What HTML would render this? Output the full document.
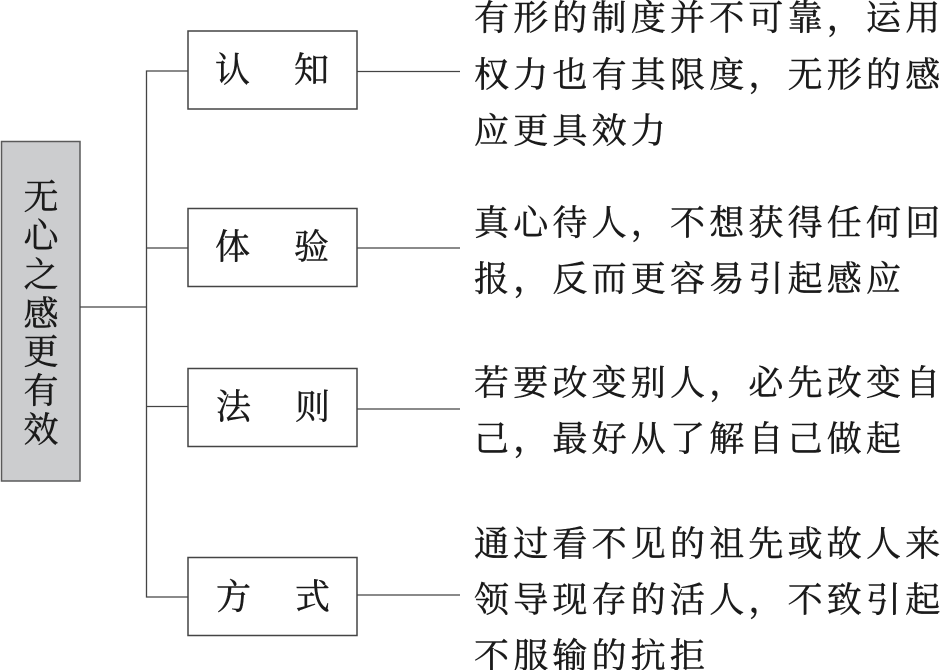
<!DOCTYPE html>
<html lang="zh">
<head>
<meta charset="utf-8">
<style>
html,body{margin:0;padding:0;background:#fff;width:941px;height:670px;overflow:hidden}
svg{display:block}
text{font-family:"Liberation Serif","Noto Serif CJK SC",serif;fill:#1a1a1a;stroke:#1a1a1a;stroke-width:.45px}
.t{font-size:35px;letter-spacing:4.2px}
.b{font-size:35px}
.r{font-size:35px;text-anchor:middle}
</style>
</head>
<body>
<svg width="941" height="670" viewBox="0 0 941 670" xmlns="http://www.w3.org/2000/svg">
<rect x="1.5" y="141.5" width="78.5" height="339.5" fill="#cccdcf" stroke="#5a5a5a" stroke-width="1.5"/>
<g fill="#fff" stroke="#444" stroke-width="1.5">
<rect x="188" y="31" width="169" height="78"/>
<rect x="188" y="208.5" width="169" height="78"/>
<rect x="188" y="368.5" width="169" height="78"/>
<rect x="188" y="557.5" width="169" height="78"/>
</g>
<g stroke="#444" stroke-width="1.3" fill="none">
<path d="M80 307H146"/>
<path d="M188 71H146.5V597H188"/>
<path d="M146.5 248H188"/>
<path d="M146.5 406.500H188"/>
<path d="M357 71.500H460"/>
<path d="M357 248H460"/>
<path d="M357 409H460"/>
<path d="M357 595H460"/>
</g>
<text class="r" x="41" y="209">无</text>
<text class="r" x="41" y="248">心</text>
<text class="r" x="41" y="287">之</text>
<text class="r" x="41" y="326">感</text>
<text class="r" x="41" y="364">更</text>
<text class="r" x="41" y="403">有</text>
<text class="r" x="41" y="442">效</text>
<text class="b" x="215" y="82">认</text><text class="b" x="294" y="82">知</text>
<text class="b" x="215" y="259">体</text><text class="b" x="294" y="259">验</text>
<text class="b" x="216" y="419">法</text><text class="b" x="295" y="419">则</text>
<text class="b" x="216" y="609">方</text><text class="b" x="295" y="609">式</text>
<text class="t" x="474" y="30">有形的制度并不可靠，运用</text>
<text class="t" x="474" y="87">权力也有其限度，无形的感</text>
<text class="t" x="474" y="143">应更具效力</text>
<text class="t" x="474" y="235">真心待人，不想获得任何回</text>
<text class="t" x="474" y="291">报，反而更容易引起感应</text>
<text class="t" x="474" y="395">若要改变别人，必先改变自</text>
<text class="t" x="474" y="451">己，最好从了解自己做起</text>
<text class="t" x="474" y="556">通过看不见的祖先或故人来</text>
<text class="t" x="474" y="612">领导现存的活人，不致引起</text>
<text class="t" x="474" y="668">不服输的抗拒</text>
</svg>
</body>
</html>
